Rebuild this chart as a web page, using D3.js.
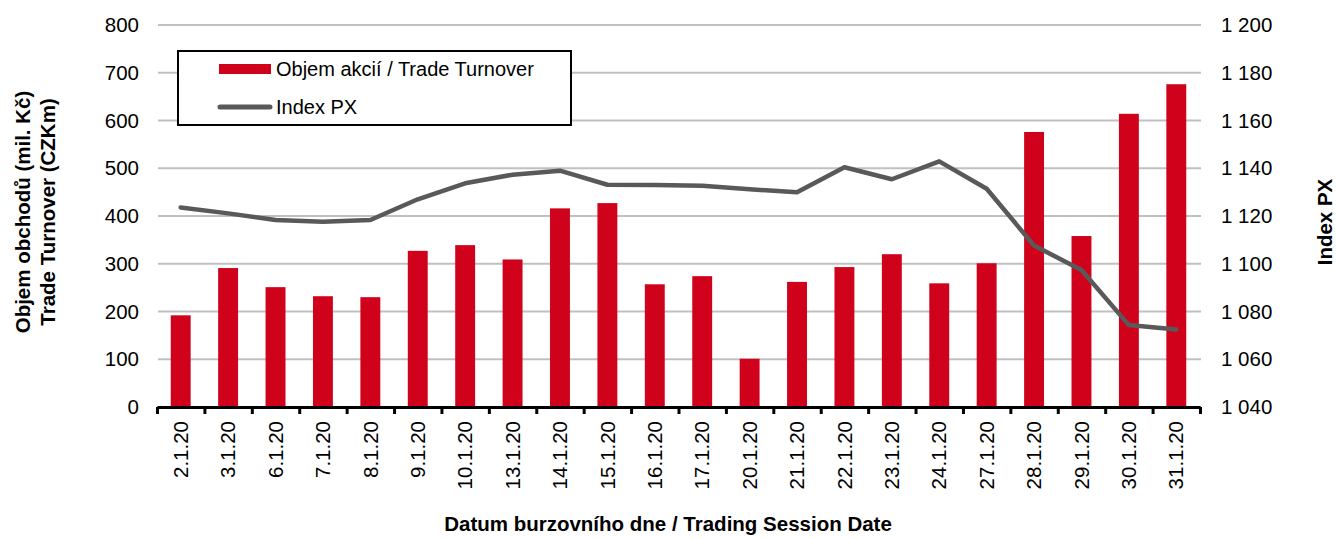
<!DOCTYPE html>
<html>
<head>
<meta charset="utf-8">
<script src="https://cdn.jsdelivr.net/npm/d3@7"></script>
<style>
  body { margin: 0; background: #fff; }
  svg text { font-family: "Liberation Sans", Arial, sans-serif; fill: #000; }
  .axis-title { font-weight: bold; font-size: 20.5px; }
</style>
</head>
<body>
<div class="chart"></div>
<script>
var svgWidth = 1336;
var svgHeight = 538;

var margin = { top: 25, right: 136, bottom: 131, left: 157 };
var width = svgWidth - margin.left - margin.right;
var height = svgHeight - margin.top - margin.bottom;

// data
var dates = ["2.1.20", "3.1.20", "6.1.20", "7.1.20", "8.1.20", "9.1.20", "10.1.20", "13.1.20",
  "14.1.20", "15.1.20", "16.1.20", "17.1.20", "20.1.20", "21.1.20", "22.1.20", "23.1.20",
  "24.1.20", "27.1.20", "28.1.20", "29.1.20", "30.1.20", "31.1.20"];
var turnover = [192, 291, 251, 232, 230, 327, 339, 309, 416, 427, 257, 274, 101, 262, 293, 320,
  259, 301, 576, 358, 614, 676];
var indexPX = [1123.6, 1121.1, 1118.3, 1117.6, 1118.3, 1127.0, 1133.7, 1137.3, 1139.0, 1133.1,
  1133.0, 1132.7, 1131.2, 1129.9, 1140.4, 1135.4, 1142.9, 1131.4, 1107.6, 1097.4, 1074.3, 1072.5];
var leftTicks = [0, 100, 200, 300, 400, 500, 600, 700, 800];
var rightTicks = [1040, 1060, 1080, 1100, 1120, 1140, 1160, 1180, 1200];

var svg = d3.select(".chart")
  .append("svg")
  .attr("width", svgWidth)
  .attr("height", svgHeight);

var chartGroup = svg.append("g")
  .attr("transform", `translate(${margin.left}, ${margin.top})`);

// scales
var xScale = d3.scaleBand()
  .domain(dates)
  .range([0, width])
  .paddingInner(0.58)
  .paddingOuter(0.29);

var xEdge = d3.scaleLinear()
  .domain([0, dates.length])
  .range([0, width]);

var yLeft = d3.scaleLinear().domain([0, 800]).range([height, 0]);
var yRight = d3.scaleLinear().domain([1040, 1200]).range([height, 0]);

var czLocale = d3.formatLocale({ decimal: ",", thousands: " ", grouping: [3], currency: ["", ""] });
var fmtRight = czLocale.format(",d");

// gridlines
chartGroup.append("g")
  .selectAll("line")
  .data(leftTicks)
  .enter()
  .append("line")
  .attr("x1", 1)
  .attr("x2", width + 1)
  .attr("y1", d => yLeft(d))
  .attr("y2", d => yLeft(d))
  .attr("stroke", "#c0c0c0")
  .attr("stroke-width", 2);

// left axis labels
var leftAxis = chartGroup.append("g")
  .call(d3.axisLeft(yLeft).tickValues(leftTicks).tickSize(0).tickPadding(18));
leftAxis.select(".domain").remove();
leftAxis.selectAll("text")
  .attr("font-size", "20.5px")
  .attr("font-family", "Liberation Sans, Arial, sans-serif")
  .attr("fill", "#000");

// right axis labels
var rightAxis = chartGroup.append("g")
  .attr("transform", `translate(${width}, 0)`)
  .call(d3.axisRight(yRight).tickValues(rightTicks).tickSize(0).tickPadding(21).tickFormat(fmtRight));
rightAxis.select(".domain").remove();
rightAxis.selectAll("text")
  .attr("font-size", "20.5px")
  .attr("font-family", "Liberation Sans, Arial, sans-serif")
  .attr("fill", "#000");

// bars
chartGroup.selectAll("rect.bar")
  .data(turnover)
  .enter()
  .append("rect")
  .classed("bar", true)
  .attr("x", (d, i) => xScale(dates[i]))
  .attr("y", d => yLeft(d))
  .attr("width", xScale.bandwidth())
  .attr("height", d => height - yLeft(d))
  .attr("fill", "#d0021b");

// x axis baseline with boundary ticks
var edgeAxis = chartGroup.append("g")
  .attr("transform", `translate(0, ${height})`)
  .call(d3.axisBottom(xEdge).tickValues(d3.range(dates.length + 1)).tickSize(7).tickSizeOuter(0).tickFormat(""));
edgeAxis.select(".domain").attr("stroke", "#000").attr("stroke-width", 3);
edgeAxis.selectAll(".tick line").attr("stroke", "#000").attr("stroke-width", 3);

// category labels
var xAxis = chartGroup.append("g")
  .attr("transform", `translate(0, ${height})`)
  .call(d3.axisBottom(xScale).tickSize(0));
xAxis.select(".domain").remove();
xAxis.selectAll("text")
  .attr("font-size", "20.5px")
  .attr("font-family", "Liberation Sans, Arial, sans-serif")
  .attr("fill", "#000")
  .attr("transform", "rotate(-90)")
  .attr("text-anchor", "end")
  .attr("x", -14)
  .attr("y", 0)
  .attr("dy", "0.35em");

// index line
var line = d3.line()
  .x((d, i) => xScale(dates[i]) + xScale.bandwidth() / 2)
  .y(d => yRight(d));

chartGroup.append("path")
  .datum(indexPX)
  .attr("d", line)
  .attr("fill", "none")
  .attr("stroke", "#595959")
  .attr("stroke-width", 4.5)
  .attr("stroke-linejoin", "round")
  .attr("stroke-linecap", "round");

// axis titles
svg.append("text")
  .classed("axis-title", true)
  .attr("transform", `translate(30, ${margin.top + height / 2 - 4}) rotate(-90)`)
  .attr("text-anchor", "middle")
  .text("Objem obchodů (mil. Kč)");

svg.append("text")
  .classed("axis-title", true)
  .attr("transform", `translate(55, ${margin.top + height / 2 - 4}) rotate(-90)`)
  .attr("text-anchor", "middle")
  .text("Trade Turnover (CZKm)");

svg.append("text")
  .classed("axis-title", true)
  .attr("transform", `translate(1332, ${margin.top + height / 2 + 6}) rotate(-90)`)
  .attr("text-anchor", "middle")
  .text("Index PX");

svg.append("text")
  .classed("axis-title", true)
  .attr("x", 668)
  .attr("y", 531)
  .attr("text-anchor", "middle")
  .text("Datum burzovního dne / Trading Session Date");

// legend
var legend = svg.append("g").attr("transform", "translate(178, 51)");
legend.append("rect")
  .attr("width", 393)
  .attr("height", 74)
  .attr("fill", "#fff")
  .attr("stroke", "#000")
  .attr("stroke-width", 2);
legend.append("rect")
  .attr("x", 41)
  .attr("y", 13)
  .attr("width", 52)
  .attr("height", 10)
  .attr("fill", "#d0021b");
legend.append("text")
  .attr("x", 98)
  .attr("y", 25)
  .attr("font-size", "20px")
  .text("Objem akcií / Trade Turnover");
legend.append("line")
  .attr("x1", 42)
  .attr("x2", 92)
  .attr("y1", 56)
  .attr("y2", 56)
  .attr("stroke", "#595959")
  .attr("stroke-width", 5)
  .attr("stroke-linecap", "round");
legend.append("text")
  .attr("x", 98)
  .attr("y", 63)
  .attr("font-size", "20px")
  .text("Index PX");
</script>
</body>
</html>
